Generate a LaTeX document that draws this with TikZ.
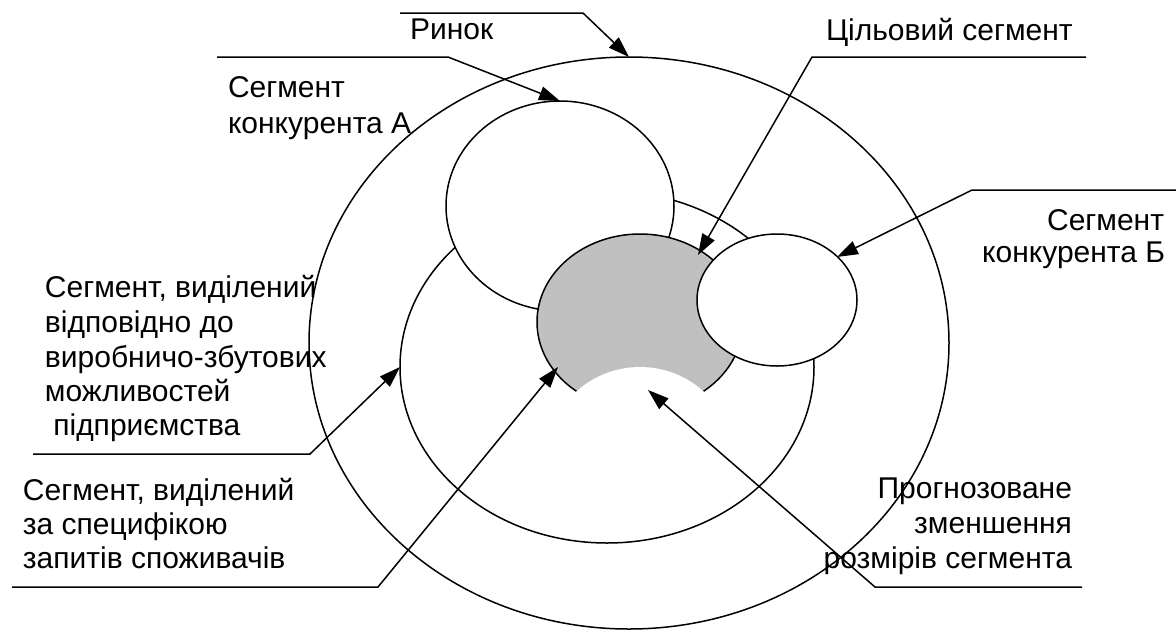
\documentclass[tikz,border=0pt]{standalone}
\usepackage{fontspec}
\setmainfont{Liberation Sans}
\usetikzlibrary{arrows.meta,shapes.geometric}
\definecolor{silverc}{RGB}{192,192,192}
\begin{document}
\begin{tikzpicture}[x=1pt,y=-1pt,
  shp/.style={draw=black, line width=1.5pt, fill=white, ellipse, inner sep=0pt, outer sep=0pt},
  lbl/.style={inner sep=0pt, outer sep=0pt, font=\fontsize{30}{36}\selectfont},
  lead/.style={draw=black, line width=1.5pt, -{Triangle[length=21pt,width=14pt]}},
  ]
\fill[white] (0,0) rectangle (1176,630);
\useasboundingbox (0,0) rectangle (1176,630);

% ellipses
\node[shp, minimum width=640pt, minimum height=572pt] (market) at (629,343) {};
\node[shp, minimum width=414pt, minimum height=352pt] (prod) at (607,367) {};
\node[shp, minimum width=228pt, minimum height=210pt] (compA) at (560,206) {};
\node[shp, fill=silverc, minimum width=206pt, minimum height=176pt] (target) at (640,322) {};
\begin{scope}
  \clip (640,322) ellipse [x radius=104.5pt, y radius=89.5pt];
  \fill[white] (640,462) circle [radius=95pt];
\end{scope}
\node[shp, minimum width=160pt, minimum height=132pt] (compB) at (777,300) {};

% leader coordinates
\coordinate (r1) at (400,13);   \coordinate (r2) at (583,13);
\coordinate (a1) at (217,57);   \coordinate (a2) at (448,57);
\coordinate (t1) at (1086,57);  \coordinate (t2) at (812,57);   \coordinate (t3) at (698,255);
\coordinate (b1) at (1176,190); \coordinate (b2) at (972,190);  \coordinate (b3) at (837,257);
\coordinate (p1) at (33,454);   \coordinate (p2) at (310,454);
\coordinate (c1) at (12,587);   \coordinate (c2) at (378,587);  \coordinate (c3) at (558,367);
\coordinate (f1) at (1082,587); \coordinate (f2) at (875,587);  \coordinate (f3) at (648,390);

\draw[lead] (r1) -- (r2) -- (market.north);
\draw[lead] (a1) -- (a2) -- (compA.north);
\draw[lead] (t1) -- (t2) -- (t3);
\draw[lead] (b1) -- (b2) -- (b3);
\draw[lead] (p1) -- (p2) -- (prod.west);
\draw[lead] (c1) -- (c2) -- (c3);
\draw[lead] (f1) -- (f2) -- (f3);

% labels
\node[lbl, anchor=base west] (lr) at (410,39) {Ринок};
\node[lbl, anchor=base west] (la1) at (228,97) {Сегмент};
\node[lbl, anchor=base west] (la2) at (228,133) {конкурента А};
\node[lbl, anchor=base west] (lt) at (826,40) {Цільовий сегмент};
\node[lbl, anchor=base east] (lb1) at (1164,230) {Сегмент};
\node[lbl, anchor=base east] (lb2) at (1165,262) {конкурента Б};
\node[lbl, anchor=base west] (lp1) at (45,297) {Сегмент, виділений};
\node[lbl, anchor=base west] (lp2) at (45,332) {відповідно до};
\node[lbl, anchor=base west] (lp3) at (45,367) {виробничо-збутових};
\node[lbl, anchor=base west] (lp4) at (45,401) {можливостей};
\node[lbl, anchor=base west] (lp5) at (45,435) {~підприємства};
\node[lbl, anchor=base west] (lc1) at (23,500) {Сегмент, виділений};
\node[lbl, anchor=base west] (lc2) at (23,534) {за специфікою};
\node[lbl, anchor=base west] (lc3) at (23,568) {запитів споживачів};
\node[lbl, anchor=base east] (lf1) at (1072,498) {Прогнозоване};
\node[lbl, anchor=base east] (lf2) at (1072,533) {зменшення};
\node[lbl, anchor=base east] (lf3) at (1072,568) {розмірів сегмента};
\end{tikzpicture}
\end{document}
